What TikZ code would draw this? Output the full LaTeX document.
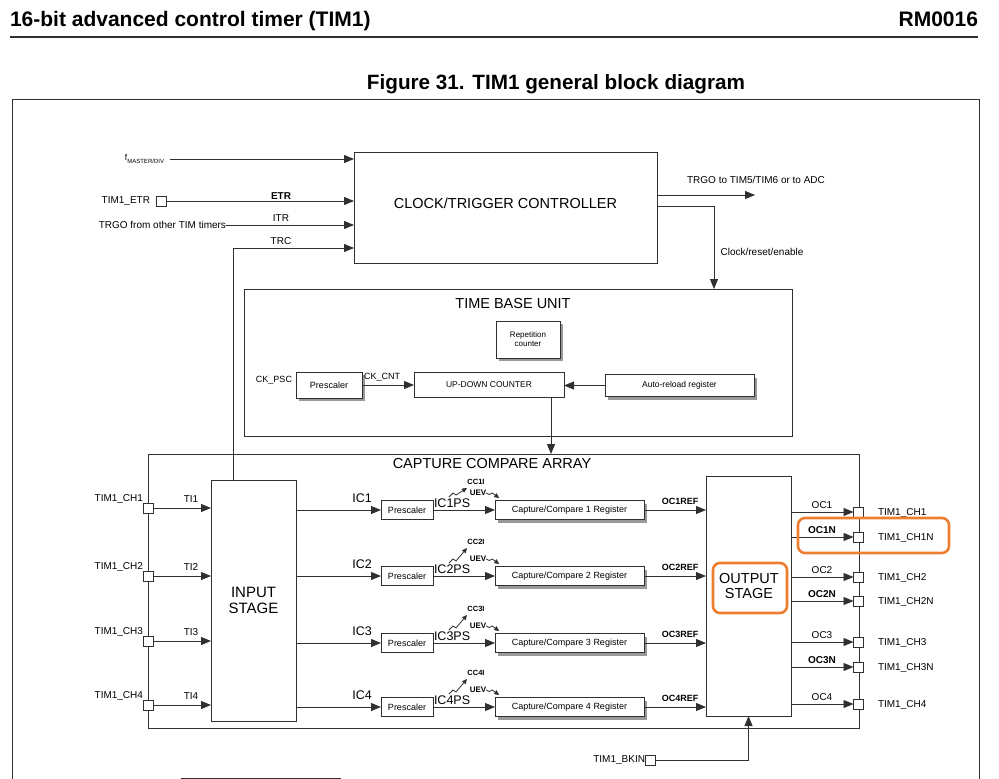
\documentclass[tikz,border=0pt]{standalone}
\usepackage{fontspec}
\setmainfont{Liberation Sans}
\usetikzlibrary{arrows.meta,shadows}
\definecolor{ln}{HTML}{303030}
\definecolor{hl}{HTML}{ED7D31}
\newcommand{\fsz}[1]{\fontsize{#1}{#1}\selectfont}
\begin{document}
\begin{tikzpicture}[x=1pt,y=-1pt,
  every node/.style={inner sep=0pt, outer sep=0pt, text=black},
  box/.style={draw=ln, line width=0.9pt, fill=white, align=center},
  sbox/.style={box, drop shadow={shadow xshift=3pt, shadow yshift=-3pt, fill=black!40, opacity=1}},
  frm/.style={draw=ln, line width=1pt},
  pinsq/.style={draw=ln, line width=0.8pt, fill=white, minimum size=10pt},
  arr/.style={draw=ln, line width=0.9pt, -{Triangle[length=10pt,width=8pt]}},
  zz/.style={draw=ln, line width=0.8pt, -{Triangle[length=5pt,width=4.5pt]}},
  lbl/.style={font=\fsz{10}},
  big/.style={font=\fsz{14.5}},
  hlbox/.style={draw=hl, line width=2.6pt, rounded corners=7pt}]
\fill[white] (0,0) rectangle (999,779);
\useasboundingbox (0,0) rectangle (999,779);

% header
\node[anchor=base west, font=\fsz{21}\bfseries] (hdr) at (10,26) {16-bit advanced control timer (TIM1)};
\node[anchor=base east, font=\fsz{21}\bfseries] (rm) at (978,26) {RM0016};
\coordinate (hl1) at (10,37);
\coordinate (hl2) at (978,37);
\draw[ln, line width=1.3pt] (hl1) -- (hl2);
\node[anchor=base, font=\fsz{20.7}\bfseries] (cap) at (556,89) {Figure 31. TIM1 general block diagram};

% outer frame
\coordinate (fbl) at (12,800);
\coordinate (ftr) at (979,99);
\coordinate (fbr) at (979,800);
\draw[frm] (fbl) |- (ftr) -- (fbr);

% clock / trigger controller
\node[box, big, minimum width=303, minimum height=111] (ctc) at (505.5,207.5) {};
\node[big] (ctct) at (505.5,203) {CLOCK/TRIGGER CONTROLLER};

% inputs to controller
\node[anchor=east] (fm) at (164,159) {\fsz{8.5}f\raisebox{-2.5pt}{\fsz{6}MASTER/DIV}};
\draw[arr] ([xshift=6pt]fm.east) -- (fm.east -| ctc.west);
\node[anchor=east, lbl] (etrn) at (150,201) {TIM1\_ETR};
\node[pinsq] (petr) at (161,201) {};
\draw[arr] (petr.east) -- (petr.east -| ctc.west);
\node[font=\fsz{10}\bfseries] (etrl) at (281,196) {ETR};
\node[anchor=east, lbl] (trgoin) at (226,225) {TRGO from other TIM timers};
\draw[arr] (trgoin.east) -- (trgoin.east -| ctc.west);
\node[lbl] (itrl) at (281,218) {ITR};
\node[lbl] (trcl) at (281,241) {TRC};

% controller outputs
\coordinate (trgo) at (755,195);
\draw[arr] (trgo -| ctc.east) -- (trgo);
\node[lbl] (trgol) at (756,180) {TRGO to TIM5/TIM6 or to ADC};
\coordinate (cre) at (714,206);

% time base unit
\node[box, minimum width=548, minimum height=147] (tbu) at (518,362.5) {};
\node[big] (tbut) at (513,304) {TIME BASE UNIT};
\draw[arr] (cre -| ctc.east) -- (cre) -- (cre |- tbu.north);
\node[lbl] (crel) at (762,252) {Clock/reset/enable};
\node[sbox, font=\fsz{8}, minimum width=64, minimum height=37] (rep) at (528,339.5) {Repetition\\[1pt]counter};
\node[sbox, font=\fsz{9}, minimum width=66, minimum height=26] (tpsc) at (329,385) {Prescaler};
\node[box, font=\fsz{8.5}, minimum width=150, minimum height=25] (udc) at (489,384.5) {UP-DOWN COUNTER};
\node[sbox, font=\fsz{8.5}, minimum width=149, minimum height=22] (arl) at (679.5,385.5) {Auto-reload register};
\node[anchor=east, font=\fsz{9}] (ckpsc) at (292,380) {CK\_PSC};
\node[font=\fsz{9}] (ckcnt) at (382,377) {CK\_CNT};
\draw[arr] (tpsc.east) -- (tpsc.east -| udc.west);
\draw[arr] (arl.west) -- (arl.west -| udc.east);

% capture compare array
\node[box, fill=none, minimum width=711, minimum height=274] (cca) at (503.5,591) {};
\node[big] (ccat) at (492,464) {CAPTURE COMPARE ARRAY};
\coordinate (cntx) at (551,0);
\draw[arr] (udc.south -| cntx) -- (cca.north -| cntx);

% input stage and TRC
\node[box, font=\fsz{15}, minimum width=85, minimum height=241] (ins) at (253.5,600.5) {INPUT\\[1pt]STAGE};
\coordinate (trc) at (233,248);
\draw[arr] (ins.north -| trc) -- (trc) -- (trc -| ctc.west);

% output stage
\node[box, minimum width=85, minimum height=240] (outs) at (748.5,596) {};
\node[big, align=center] (ost) at (749,586) {OUTPUT\\[0pt]STAGE};
\node[hlbox, minimum width=74, minimum height=50] (hlo) at (750,588) {};

% channel rows
\foreach \i/\ty/\ry/\ccy in {1/508/510/482, 2/576/576/542, 3/641/643/609, 4/705/707/673}{
  \node[pinsq] (pl\i) at (148,\ty) {};
  \node[anchor=east, lbl] (tl\i) at (143,\ty-9) {TIM1\_CH\i};
  \draw[arr] (pl\i.east) -- (pl\i.east -| ins.west);
  \node[lbl] (til\i) at (191,\ty-9) {TI\i};
  \node[box, font=\fsz{9}, minimum width=52, minimum height=19] (ps\i) at (407,\ry) {Prescaler};
  \draw[arr] (ps\i.west -| ins.east) -- (ps\i.west);
  \node[font=\fsz{12.5}] (icl\i) at (362,\ry-12) {IC\i};
  \node[sbox, font=\fsz{9}, minimum width=149, minimum height=19] (cc\i) at (569.5,\ry) {Capture/Compare \i\ Register};
  \draw[arr] (ps\i.east) -- (cc\i.west);
  \node[font=\fsz{12.5}, anchor=base west] (ips\i) at (434,\ry-2.5) {IC\i PS};
  \node[font=\fsz{7.5}\bfseries] (cci\i) at (476,\ccy) {CC\i I};
  \draw[zz] (449,\ry-13) -- (453,\ry-17) -- (456,\ry-15) -- (467,\ccy+6);
  \node[font=\fsz{8}\bfseries] (uev\i) at (478,\ry-17) {UEV};
  \draw[zz] (uev\i.east) -- ++(3,1.5) -- ++(3,-1.5) -- ++(7,5);
  \draw[arr] (cc\i.east) -- (cc\i.east -| outs.west);
  \node[font=\fsz{9}\bfseries] (ocr\i) at (680,\ry-9) {OC\i REF};
}

% outputs
\foreach \j/\y/\o/\t/\f in {a/512/OC1/TIM1\_CH1/\mdseries, b/537/OC1N/TIM1\_CH1N/\bfseries,
  c/577/OC2/TIM1\_CH2/\mdseries, d/601/OC2N/TIM1\_CH2N/\bfseries,
  e/642/OC3/TIM1\_CH3/\mdseries, f/667/OC3N/TIM1\_CH3N/\bfseries,
  g/704/OC4/TIM1\_CH4/\mdseries}{
  \node[pinsq] (pr\j) at (858.5,\y) {};
  \draw[arr] (pr\j.west -| outs.east) -- (pr\j.west);
  \node[font=\fsz{10}\f] (ocl\j) at (822,\y-7) {\o};
  \node[anchor=west, lbl] (trl\j) at (878,\y+1) {\t};
}
\node[hlbox, minimum width=151, minimum height=35] (hlc) at (873.5,535.5) {};

% break input
\node[pinsq] (pbk) at (650.5,760) {};
\node[anchor=east, lbl] (bkl) at (645,760) {TIM1\_BKIN};
\draw[arr] (pbk.east) -| (outs.south);

% partial box at bottom
\coordinate (pb1) at (181,800);
\coordinate (pb2) at (340,778);
\coordinate (pb3) at (340,800);
\draw[ln, line width=0.9pt] (pb1) |- (pb2) -- (pb3);
\end{tikzpicture}
\end{document}
